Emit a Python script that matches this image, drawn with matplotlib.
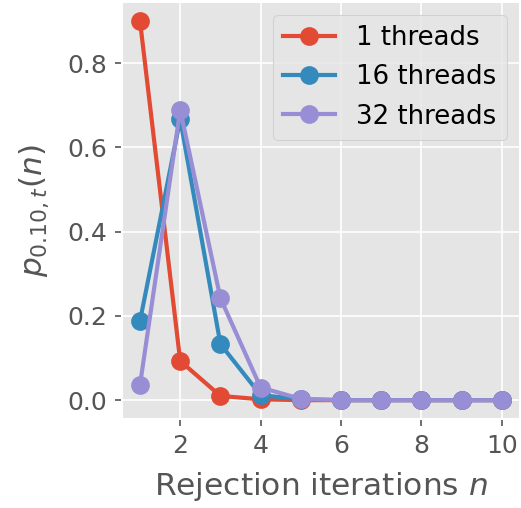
import matplotlib
matplotlib.use("Agg")
import matplotlib.pyplot as plt

plt.style.use("ggplot")

n = [1, 2, 3, 4, 5, 6, 7, 8, 9, 10]
p_1 = [0.900, 0.093, 0.010, 0.002, 0.0, 0.0, 0.0, 0.0, 0.0, 0.0]
p_16 = [0.188, 0.667, 0.133, 0.012, 0.002, 0.0, 0.0, 0.0, 0.0, 0.0]
p_32 = [0.036, 0.689, 0.242, 0.030, 0.003, 0.0, 0.0, 0.0, 0.0, 0.0]
labels = ["1 threads", "16 threads", "32 threads"]

fig = plt.figure(figsize=(521/150, 508/150), dpi=150)
ax = fig.add_axes([0.234, 0.175, 0.764, 0.821])
for y, lab in zip([p_1, p_16, p_32], labels):
    ax.plot(n, y, marker="o", markersize=8, linewidth=2, label=lab)

ax.set_xlabel("Rejection iterations $n$", fontsize=15, labelpad=6)
ax.set_ylabel("$p_{0.10,t}(n)$", fontsize=15, labelpad=8)
ax.tick_params(labelsize=12)
ax.set_xticks([2, 4, 6, 8, 10])
ax.legend(loc="upper right", fontsize=12.5)

fig.savefig("out.png", dpi=150)
